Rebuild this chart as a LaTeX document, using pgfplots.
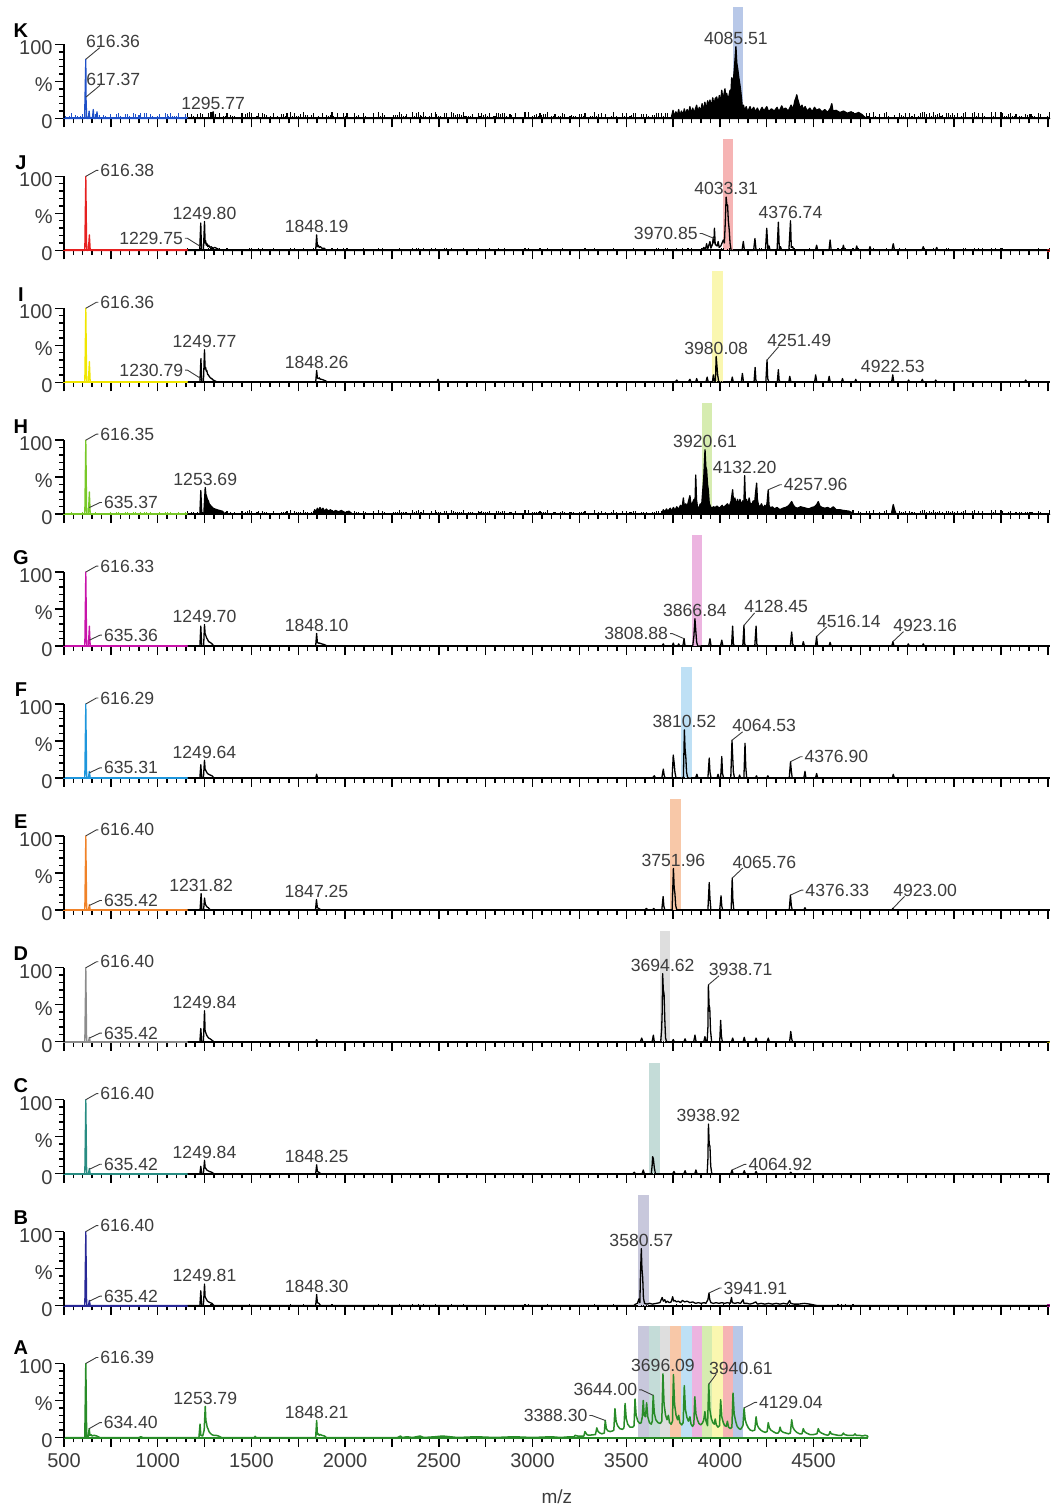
\documentclass[border=0pt]{standalone}
\usepackage{fontspec}
\setmainfont{Liberation Sans}
\usepackage{pgfplots}
\usepackage{pgfplotstable}
\pgfplotsset{compat=1.18}

% trace colours of the low-mass segment
\definecolor{cK}{HTML}{1E50C8}
\definecolor{cJ}{HTML}{E62020}
\definecolor{cI}{HTML}{F0E600}
\definecolor{cH}{HTML}{78C828}
\definecolor{cG}{HTML}{C814AA}
\definecolor{cF}{HTML}{1E96DC}
\definecolor{cE}{HTML}{F08228}
\definecolor{cD}{HTML}{8C8C8C}
\definecolor{cC}{HTML}{288C82}
\definecolor{cB}{HTML}{282896}
\definecolor{cA}{HTML}{288C28}
% highlight bands
\definecolor{bK}{HTML}{B8C8E8}
\definecolor{bJ}{HTML}{F6B4B4}
\definecolor{bI}{HTML}{FAF7B0}
\definecolor{bH}{HTML}{D6ECB0}
\definecolor{bG}{HTML}{ECB4E0}
\definecolor{bF}{HTML}{BEE0F5}
\definecolor{bE}{HTML}{F8C8A8}
\definecolor{bD}{HTML}{DEDEDE}
\definecolor{bC}{HTML}{C4DCD8}
\definecolor{bB}{HTML}{C8C8DC}
\definecolor{lab}{HTML}{3C3C3C}

\newcommand{\ticksize}{\fontsize{10}{12}\selectfont}
\newcommand{\lblsize}{\fontsize{8.8}{10}\selectfont}

% baseline noise level (relative units)
\pgfplotstableread[row sep=\\]{x n\\
500 1\\510 4\\520 1\\530 5\\540 9\\550 2\\560 6\\570 5\\580 3\\590 5\\
600 8\\610 9\\620 7\\630 9\\640 3\\650 2\\660 3\\670 8\\680 4\\690 6\\
700 2\\710 6\\720 4\\730 3\\740 3\\750 8\\760 3\\770 2\\780 7\\790 9\\
800 5\\810 0\\820 2\\830 8\\840 8\\850 4\\860 1\\870 9\\880 7\\890 1\\
900 6\\910 9\\920 3\\930 9\\940 9\\950 3\\960 7\\970 5\\980 1\\990 0\\
1000 5\\1010 8\\1020 2\\1030 0\\1040 9\\1050 7\\1060 4\\1070 9\\1080 4\\1090 4\\
1100 5\\1110 9\\1120 2\\1130 3\\1140 0\\1150 7\\1160 8\\1170 1\\1180 6\\1190 4\\
1200 0\\1210 6\\1220 2\\1230 8\\1240 6\\1250 2\\1260 0\\1270 8\\1280 9\\1290 9\\
1300 8\\1310 6\\1320 2\\1330 8\\1340 0\\1350 3\\1360 4\\1370 8\\1380 2\\1390 5\\
1400 3\\1410 4\\1420 2\\1430 1\\1440 1\\1450 7\\1460 0\\1470 6\\1480 7\\1490 9\\
1500 8\\1510 2\\1520 1\\1530 4\\1540 8\\1550 0\\1560 8\\1570 6\\1580 5\\1590 1\\
1600 3\\1610 2\\1620 8\\1630 2\\1640 3\\1650 0\\1660 6\\1670 6\\1680 4\\1690 7\\
1700 0\\1710 9\\1720 3\\1730 8\\1740 4\\1750 4\\1760 6\\1770 0\\1780 9\\1790 5\\
1800 5\\1810 0\\1820 5\\1830 8\\1840 2\\1850 2\\1860 3\\1870 1\\1880 7\\1890 2\\
1900 5\\1910 3\\1920 5\\1930 9\\1940 4\\1950 0\\1960 8\\1970 1\\1980 2\\1990 8\\
2000 4\\2010 8\\2020 1\\2030 1\\2040 1\\2050 7\\2060 4\\2070 5\\2080 0\\2090 2\\
2100 8\\2110 4\\2120 1\\2130 0\\2140 2\\2150 7\\2160 0\\2170 1\\2180 9\\2190 3\\
2200 8\\2210 5\\2220 2\\2230 1\\2240 1\\2250 0\\2260 5\\2270 5\\2280 5\\2290 9\\
2300 6\\2310 4\\2320 4\\2330 6\\2340 2\\2350 2\\2360 9\\2370 4\\2380 8\\2390 9\\
2400 5\\2410 4\\2420 9\\2430 3\\2440 0\\2450 3\\2460 8\\2470 1\\2480 9\\2490 6\\
2500 4\\2510 4\\2520 2\\2530 8\\2540 8\\2550 1\\2560 0\\2570 9\\2580 7\\2590 5\\
2600 6\\2610 6\\2620 5\\2630 9\\2640 3\\2650 3\\2660 4\\2670 4\\2680 6\\2690 1\\
2700 2\\2710 8\\2720 4\\2730 7\\2740 5\\2750 6\\2760 4\\2770 8\\2780 2\\2790 3\\
2800 3\\2810 7\\2820 8\\2830 6\\2840 7\\2850 8\\2860 3\\2870 1\\2880 6\\2890 5\\
2900 2\\2910 7\\2920 1\\2930 2\\2940 0\\2950 1\\2960 9\\2970 0\\2980 9\\2990 1\\
3000 4\\3010 5\\3020 6\\3030 4\\3040 8\\3050 5\\3060 6\\3070 6\\3080 9\\3090 2\\
3100 3\\3110 4\\3120 6\\3130 0\\3140 3\\3150 4\\3160 8\\3170 6\\3180 1\\3190 0\\
3200 4\\3210 5\\3220 4\\3230 3\\3240 2\\3250 6\\3260 6\\3270 4\\3280 8\\3290 2\\
3300 1\\3310 3\\3320 3\\3330 9\\3340 3\\3350 6\\3360 0\\3370 7\\3380 2\\3390 6\\
3400 0\\3410 2\\3420 4\\3430 9\\3440 1\\3450 4\\3460 1\\3470 2\\3480 7\\3490 3\\
3500 7\\3510 2\\3520 4\\3530 5\\3540 8\\3550 7\\3560 0\\3570 0\\3580 6\\3590 6\\
3600 0\\3610 6\\3620 3\\3630 1\\3640 5\\3650 5\\3660 8\\3670 8\\3680 1\\3690 7\\
3700 4\\3710 8\\3720 8\\3730 1\\3740 5\\3750 2\\3760 0\\3770 9\\3780 2\\3790 0\\
3800 9\\3810 6\\3820 2\\3830 8\\3840 2\\3850 9\\3860 2\\3870 5\\3880 4\\3890 0\\
3900 9\\3910 1\\3920 7\\3930 1\\3940 5\\3950 3\\3960 6\\3970 4\\3980 3\\3990 6\\
4000 7\\4010 8\\4020 9\\4030 2\\4040 5\\4050 9\\4060 0\\4070 3\\4080 6\\4090 0\\
4100 0\\4110 1\\4120 1\\4130 3\\4140 3\\4150 0\\4160 5\\4170 3\\4180 0\\4190 5\\
4200 4\\4210 8\\4220 8\\4230 2\\4240 0\\4250 4\\4260 6\\4270 6\\4280 5\\4290 2\\
4300 1\\4310 3\\4320 8\\4330 4\\4340 1\\4350 4\\4360 6\\4370 9\\4380 5\\4390 1\\
4400 9\\4410 4\\4420 1\\4430 5\\4440 1\\4450 1\\4460 6\\4470 0\\4480 9\\4490 4\\
4500 3\\4510 3\\4520 0\\4530 5\\4540 7\\4550 2\\4560 7\\4570 0\\4580 3\\4590 6\\
4600 5\\4610 7\\4620 5\\4630 9\\4640 5\\4650 9\\4660 1\\4670 9\\4680 5\\4690 3\\
4700 0\\4710 9\\4720 2\\4730 1\\4740 8\\4750 6\\4760 1\\4770 1\\4780 7\\4790 3\\
4800 8\\4810 1\\4820 9\\4830 3\\4840 2\\4850 6\\4860 1\\4870 1\\4880 7\\4890 9\\
4900 3\\4910 1\\4920 0\\4930 5\\4940 1\\4950 1\\4960 8\\4970 5\\4980 4\\4990 8\\
5000 0\\5010 7\\5020 4\\5030 4\\5040 6\\5050 2\\5060 3\\5070 7\\5080 9\\5090 9\\
5100 6\\5110 2\\5120 7\\5130 4\\5140 9\\5150 5\\5160 6\\5170 7\\5180 3\\5190 5\\
5200 1\\5210 8\\5220 8\\5230 5\\5240 7\\5250 5\\5260 2\\5270 7\\5280 2\\5290 4\\
5300 8\\5310 9\\5320 1\\5330 2\\5340 2\\5350 7\\5360 9\\5370 3\\5380 8\\5390 1\\
5400 8\\5410 3\\5420 0\\5430 1\\5440 1\\5450 9\\5460 4\\5470 9\\5480 1\\5490 2\\
5500 9\\5510 8\\5520 3\\5530 3\\5540 6\\5550 7\\5560 3\\5570 3\\5580 6\\5590 2\\
5600 4\\5610 4\\5620 0\\5630 6\\5640 5\\5650 6\\5660 6\\5670 4\\5680 3\\5690 0\\
5700 8\\5710 6\\5720 0\\5730 2\\5740 1\\5750 3\\5760 9\\
}\noise

\tikzset{
  lbl/.style={font=\lblsize, text=lab, inner sep=0.8pt},
  ldr/.style={draw=lab, line width=0.45pt},
  letter/.style={font=\bfseries\fontsize{10}{12}\selectfont, text=black},
}

% peak annotations
\newcommand{\pkc}[3]{\node[lbl,anchor=south] at (axis cs:#1,#2) {#3};}
\newcommand{\pkr}[5]{\draw[ldr] (axis cs:#1,#2) -- ++(#3,#4) -- ++(1pt,0pt) node[lbl,anchor=west] {#5};}
\newcommand{\pkl}[5]{\draw[ldr] (axis cs:#1,#2) -- ++(-#3,#4) -- ++(-1.2pt,0pt) node[lbl,anchor=east] {#5};}
\newcommand{\pku}[5]{\draw[ldr] (axis cs:#1,#2) -- ++(#3,#4); \path (axis cs:#1,#2) ++(0pt,#4) node[lbl,anchor=base west,inner xsep=0pt] {#5};}

\pgfplotsset{
  spec/.style={
    scale only axis, width=492.86pt, height=55.5pt,
    xmin=500, xmax=5760, ymin=0, ymax=150,
    axis x line*=bottom, axis y line*=left,
    x axis line style={line width=1pt,-}, y axis line style={draw=none},
    xtick={500,750,...,5750}, minor x tick num=4, xticklabels={},
    ytick={0,50,100}, yticklabels={0,\%,100},
    minor ytick={10,20,30,40,60,70,80,90},
    tick align=outside, major tick length=4.5pt, minor tick length=2.4pt,
    tick style={black, line width=0.7pt},
    yticklabel style={font=\ticksize, text=lab, inner sep=1pt, yshift=-1.8pt},
    xticklabel style={font=\ticksize, text=lab},
    clip=false, anchor=south west,
    % the intensity axis only runs up to 100 %
    after end axis/.code={\draw[black, line width=0.75pt] (axis cs:500,0) -- (axis cs:500,100);},
  },
  spk/.style={line width=0.65pt, line join=round, sharp plot},
  nz/.style={ycomb, line width=0.55pt},
}

\begin{document}
\begin{tikzpicture}
\useasboundingbox (-32pt,-35.25pt) rectangle (493.5pt,718.75pt);

%% ---------------- K ----------------
\begin{axis}[spec, at={(0pt,659.5pt)}]
\addplot[fill=bK, draw=none] coordinates {(4072,150)(4125,150)} \closedcycle;
\addplot[nz, cK, restrict x to domain=500:1160] table[x=x, y expr=0.8*\thisrow{n}] {\noise};
\addplot[nz, black, restrict x to domain=1160:5760] table[x=x, y expr=1.0*\thisrow{n}] {\noise};
\addplot[cK, line width=1pt] coordinates {(500,0)(1160,0)};
\addplot[spk, cK] coordinates {(500,0)(610,0)(616.36,80)(617.37,29)(621,0)(630,0)(634,10)(638,0)(652,0)(656,12)(660,0)(672,0)(676,9)(680,0)(1160,0)};
\addplot[spk, black, fill=black] coordinates {(1160,0)(1290,0)(1295.77,9)(1300,0)
(3740,0)(3750,11)(3756,2)(3765,9)(3772,3)(3780,12)(3786,4)(3795,10)(3802,3)(3810,13)(3816,5)(3825,12)(3832,6)(3840,16)(3846,6)(3855,14)(3862,7)(3876,18)(3882,8)(3890,15)(3898,9)(3905,20)(3912,10)(3920,22)(3926,12)(3935,24)(3940,14)(3947,25)(3954,15)(3962,28)(3968,16)(3975,27)(3983,29)(3990,20)(3997,31)(4004,22)(4010,38)(4016,25)(4027,40)(4031,28)(4036,34)(4042,26)(4048,30)(4054,38)(4058,30)(4063,55)(4070,45)(4078,70)(4085.51,97)(4090,75)(4095,67)(4101,55)(4107,45)(4112,35)(4116,25)(4120,14)(4126,18)(4132,10)(4140,16)(4148,9)(4161,16)(4168,10)(4180,15)(4190,9)(4200,14)(4210,8)(4225,15)(4235,10)(4250,16)(4260,9)(4275,13)(4290,10)(4305,15)(4315,9)(4330,17)(4338,12)(4350,14)(4365,10)(4380,18)(4390,12)(4400,24)(4406,28)(4410,32)(4415,26)(4420,22)(4428,14)(4438,18)(4445,12)(4455,16)(4465,10)(4480,14)(4492,9)(4505,15)(4516,11)(4530,13)(4545,9)(4560,12)(4575,8)(4590,14)(4597,20)(4603,10)(4620,11)(4640,8)(4660,10)(4680,7)(4700,9)(4720,6)(4740,8)(4760,5)(4780,0)(5760,0)} \closedcycle;
\pku{616.36}{80}{7pt}{5.8pt}{616.36}
\pku{617.37}{29}{7pt}{5.8pt}{617.37}
\pkc{1295.77}{9}{1295.77}
\pkc{4085.51}{97}{4085.51}
\node[letter] at (axis cs:270,119) {K};
\end{axis}

%% ---------------- J ----------------
\begin{axis}[spec, at={(0pt,593.55pt)}]
\addplot[fill=bJ, draw=none] coordinates {(4015,150)(4072,150)} \closedcycle;
\addplot[nz, cJ, restrict x to domain=500:1160] table[x=x, y expr=0.1*\thisrow{n}] {\noise};
\addplot[nz, black, restrict x to domain=1160:5760] table[x=x, y expr=0.35*\thisrow{n}] {\noise};
\addplot[cJ, line width=1pt] coordinates {(500,0)(1160,0)};
\addplot[cJ, line width=1.2pt] coordinates {(5745,0)(5760,0)};
\addplot[spk, cJ] coordinates {(500,0)(611,0)(616.38,100)(621,0)(630,0)(635.4,21)(640,0)(1160,0)};
\addplot[spk, black] coordinates {(1160,0)(1224,0)(1229.75,37)(1234,0)(1244,0)(1249.8,39)(1253,10)(1256,13)(1259,7)(1263,9)(1267,5)(1272,7)(1278,4)(1285,5)(1295,3)(1305,4)(1320,2)(1340,0)
(1843,0)(1848.19,21)(1852,5)(1857,7)(1862,4)(1868,5)(1876,3)(1888,3)(1900,0)
(3900,0)(3915,4)(3922,0)(3929,9)(3935,2)(3947,12)(3952,3)(3960,8)(3965,18)(3968,10)(3970.85,30)(3975,8)(3985,6)(3991,12)(3996,4)(4005,6)(4018,14)(4024,10)(4029,40)(4033.31,72)(4037,62)(4041,61)(4045,40)(4050,27)(4054,10)(4060,0)
(4118,0)(4125,12)(4131,0)(4180,0)(4187,16)(4193,0)(4243,0)(4250,30)(4256,2)(4262,6)(4268,0)(4305,0)(4312,38)(4317,2)(4323,5)(4330,0)(4368,0)(4376.74,40)(4381,4)(4388,5)(4395,0)
(4510,0)(4516,7)(4522,0)(4582,0)(4588,14)(4594,0)(4653,0)(4659,7)(4665,0)(4724,0)(4730,6)(4736,0)(4795,0)(4801,5)(4807,0)(4918,0)(4925,9)(4932,0)(5078,0)(5085,5)(5092,0)(5150,0)(5157,4)(5163,0)(5760,0)};
\pkr{616.38}{100}{5.3pt}{3pt}{616.38}
\pkl{1229.75}{5}{6.7pt}{4.2pt}{1229.75}
\pkc{1249.80}{39}{1249.80}
\pkc{1848.19}{21}{1848.19}
\pkl{3970.85}{16}{6.2pt}{2.5pt}{3970.85}
\pkc{4033.31}{72}{4033.31}
\pkc{4376.74}{40}{4376.74}
\node[letter] at (axis cs:270,119) {J};
\end{axis}

%% ---------------- I ----------------
\begin{axis}[spec, at={(0pt,527.6pt)}]
\addplot[fill=bI, draw=none] coordinates {(3959,150)(4015,150)} \closedcycle;
\addplot[nz, cI, restrict x to domain=500:1160] table[x=x, y expr=0.1*\thisrow{n}] {\noise};
\addplot[nz, black, restrict x to domain=1160:5760] table[x=x, y expr=0.22*\thisrow{n}] {\noise};
\addplot[cI, line width=1pt] coordinates {(500,0)(1160,0)};
\addplot[spk, cI] coordinates {(500,0)(611,0)(616.36,100)(621,0)(630,0)(635.4,28)(640,0)(1160,0)};
\addplot[spk, black] coordinates {(1160,0)(1225,0)(1230.79,32)(1235,0)(1244,0)(1249.77,44)(1253,18)(1256,20)(1259,15)(1262,16)(1266,11)(1270,10)(1275,8)(1281,6)(1288,5)(1296,3)(1305,2)(1320,0)
(1843,0)(1848.26,16)(1852,6)(1857,5)(1862,6)(1868,4)(1875,4)(1885,3)(1895,2)(1910,0)
(2490,0)(2496,4)(2502,0)
(3760,0)(3770,3)(3777,0)(3830,0)(3840,4)(3846,0)(3870,0)(3876,5)(3882,0)(3925,0)(3932,7)(3938,0)(3960,0)(3965,10)(3971,0)(3976,0)(3980.08,35)(3984,23)(3988,10)(3994,0)
(4060,0)(4066,7)(4072,0)(4114,0)(4120,12)(4126,0)(4182,0)(4188,20)(4192,3)(4198,0)(4245,0)(4251.49,30)(4255,5)(4262,0)(4306,0)(4312,17)(4316,3)(4322,0)(4367,0)(4373,8)(4379,0)
(4505,0)(4511,10)(4517,0)(4577,0)(4583,8)(4589,0)(4648,0)(4654,5)(4660,0)(4719,0)(4725,4)(4731,0)(4916,0)(4922.53,10)(4928,0)(5000,0)(5007,3)(5013,0)(5073,0)(5080,4)(5086,0)(5145,0)(5152,3)(5158,0)(5625,0)(5632,3)(5638,0)(5760,0)};
\pkr{616.36}{100}{5.3pt}{3pt}{616.36}
\pkl{1230.79}{5}{6.7pt}{4.2pt}{1230.79}
\pkc{1249.77}{44}{1249.77}
\pkc{1848.26}{16}{1848.26}
\pkc{3980.08}{35}{3980.08}
\pku{4251.49}{30}{5.8pt}{6.7pt}{4251.49}
\pkc{4922.53}{10}{4922.53}
\node[letter] at (axis cs:270,119) {I};
\end{axis}

%% ---------------- H ----------------
\begin{axis}[spec, at={(0pt,461.65pt)}]
\addplot[fill=bH, draw=none] coordinates {(3906,150)(3959,150)} \closedcycle;
\addplot[nz, cH, restrict x to domain=500:1160] table[x=x, y expr=0.35*\thisrow{n}] {\noise};
\addplot[nz, black, restrict x to domain=1160:5760] table[x=x, y expr=0.6*\thisrow{n}] {\noise};
\addplot[cH, line width=1pt] coordinates {(500,0)(1160,0)};
\addplot[spk, cH] coordinates {(500,0)(611,0)(616.35,100)(621,0)(630,0)(635.4,30)(640,0)(1160,0)};
\addplot[spk, black, fill=black] coordinates {(1160,0)(1225,0)(1230,32)(1235,2)(1246,0)(1253.69,36)(1257,27)(1261,24)(1265,20)(1270,18)(1275,14)(1281,12)(1288,10)(1296,8)(1305,7)(1316,6)(1330,5)(1345,4)(1360,0)
(1830,0)(1838,6)(1845,3)(1852,8)(1858,4)(1866,9)(1873,5)(1882,8)(1890,4)(1900,7)(1910,4)(1922,6)(1935,3)(1950,5)(1965,3)(1980,5)(2000,2)(2020,4)(2040,0)
(3690,0)(3698,6)(3705,3)(3715,7)(3722,4)(3735,8)(3742,4)(3752,9)(3760,5)(3770,10)(3778,6)(3790,12)(3798,8)(3805,22)(3810,10)(3818,14)(3825,10)(3833,18)(3840,25)(3846,12)(3855,16)(3862,20)(3867,14)(3871,53)(3875,20)(3880,10)(3888,8)(3895,14)(3902,10)(3908,30)(3914,50)(3920.61,87)(3925,64)(3929,60)(3934,40)(3938,33)(3943,15)(3950,10)(3958,8)(3965,10)(3975,9)(3985,11)(3995,8)(4005,10)(4012,12)(4018,9)(4028,11)(4040,14)(4050,10)(4060,18)(4068,33)(4073,15)(4080,22)(4086,12)(4094,20)(4100,13)(4107,20)(4114,12)(4122,18)(4128,14)(4132.2,52)(4136,15)(4142,20)(4150,12)(4156,22)(4161,15)(4170,13)(4178,18)(4185,14)(4190,28)(4196,42)(4200,20)(4206,12)(4214,10)(4222,14)(4230,8)(4240,12)(4248,9)(4252,16)(4257.96,33)(4262,12)(4270,8)(4280,10)(4290,7)(4305,9)(4320,6)(4335,8)(4350,9)(4365,11)(4375,14)(4383,17)(4392,12)(4402,9)(4415,8)(4430,10)(4445,9)(4460,8)(4475,7)(4490,9)(4505,10)(4517,13)(4525,17)(4533,11)(4545,9)(4560,8)(4575,9)(4590,7)(4605,10)(4620,6)(4640,6)(4660,5)(4690,4)(4720,0)
(4915,0)(4925,13)(4932,6)(4940,0)(5760,0)} \closedcycle;
\pkr{616.35}{100}{5.3pt}{3pt}{616.35}
\pkr{635.37}{9}{5.3pt}{2.5pt}{635.37}
\pkc{1253.69}{36}{1253.69}
\pkc{3920.61}{87}{3920.61}
\pkc{4132.20}{52}{4132.20}
\pkr{4257.96}{33}{5.8pt}{2.5pt}{4257.96}
\node[letter] at (axis cs:270,119) {H};
\end{axis}

%% ---------------- G ----------------
\begin{axis}[spec, at={(0pt,395.7pt)}]
\addplot[fill=bG, draw=none] coordinates {(3850,150)(3906,150)} \closedcycle;
\addplot[nz, cG, restrict x to domain=500:1160] table[x=x, y expr=0.1*\thisrow{n}] {\noise};
\addplot[nz, black, restrict x to domain=1160:5760] table[x=x, y expr=0.15*\thisrow{n}] {\noise};
\addplot[cG, line width=1pt] coordinates {(500,0)(1160,0)};
\addplot[spk, cG] coordinates {(500,0)(611,0)(616.33,100)(621,0)(630,0)(635.4,27)(640,0)(1160,0)};
\addplot[spk, black] coordinates {(1160,0)(1225,0)(1230,27)(1235,0)(1245,0)(1249.70,29)(1253,17)(1257,14)(1261,11)(1266,9)(1272,6)(1280,5)(1290,3)(1300,0)
(1843,0)(1848.10,17)(1852,5)(1858,4)(1865,4)(1875,3)(1890,2)(1905,0)
(3690,0)(3698,3)(3704,0)(3745,0)(3751,4)(3757,0)(3775,0)(3780,3)(3786,0)(3802,0)(3808.88,10)(3814,0)(3855,0)(3861,13)(3866.84,37)(3871,22)(3876,5)(3882,0)
(3940,0)(3947,10)(3953,0)(4003,0)(4010,8)(4016,0)(4062,0)(4068,27)(4072,3)(4078,0)(4122,0)(4128.45,28)(4132,3)(4138,0)(4186,0)(4193,27)(4197,3)(4203,0)(4376,0)(4383,19)(4388,3)(4394,0)(4440,0)(4445,6)(4451,0)(4510,0)(4516.14,13)(4521,0)(4582,0)(4588,5)(4594,0)(4917,0)(4923.16,6)(4929,0)(5000,0)(5005,3)(5011,0)(5080,0)(5085,3)(5091,0)(5760,0)};
\pkr{616.33}{100}{5.3pt}{3pt}{616.33}
\pkr{635.36}{8}{5.3pt}{2.5pt}{635.36}
\pkc{1249.70}{29}{1249.70}
\pkc{1848.10}{17}{1848.10}
\pkl{3808.88}{10}{5.8pt}{2.5pt}{3808.88}
\pkc{3866.84}{37}{3866.84}
\pku{4128.45}{28}{5.3pt}{6.2pt}{4128.45}
\pku{4516.14}{13}{5pt}{4.7pt}{4516.14}
\pku{4923.16}{6}{5.3pt}{5pt}{4923.16}
\node[letter] at (axis cs:270,119) {G};
\end{axis}

%% ---------------- F ----------------
\begin{axis}[spec, at={(0pt,329.75pt)}]
\addplot[fill=bF, draw=none] coordinates {(3793,150)(3850,150)} \closedcycle;
\addplot[nz, cF, restrict x to domain=500:1160] table[x=x, y expr=0.15*\thisrow{n}] {\noise};
\addplot[nz, black, restrict x to domain=1160:5760] table[x=x, y expr=0.2*\thisrow{n}] {\noise};
\addplot[cF, line width=1pt] coordinates {(500,0)(1160,0)};
\addplot[spk, cF] coordinates {(500,0)(611,0)(616.29,100)(621,0)(630,0)(635.3,9)(640,0)(1160,0)};
\addplot[spk, black] coordinates {(1160,0)(1225,0)(1230,18)(1235,0)(1244,0)(1249.64,24)(1253,12)(1257,10)(1261,8)(1266,6)(1272,5)(1280,4)(1290,3)(1300,0)
(1843,0)(1848,5)(1853,0)
(3640,0)(3650,3)(3656,0)(3690,0)(3698,12)(3703,3)(3709,0)(3745,0)(3751,31)(3756,20)(3760,8)(3766,0)(3805,0)(3810.52,65)(3814,40)(3818,29)(3822,8)(3828,0)
(3870,0)(3877,5)(3883,0)(3936,0)(3943,27)(3947,8)(3953,0)(3985,0)(3990,5)(3996,0)(4004,0)(4010,29)(4014,6)(4020,0)(4058,0)(4064.53,51)(4068,30)(4072,8)(4078,0)(4100,0)(4105,4)(4110,0)(4128,0)(4134,47)(4138,15)(4143,0)(4190,0)(4195,3)(4200,0)(4250,0)(4256,3)(4262,0)(4370,0)(4376.9,22)(4381,10)(4386,0)(4448,0)(4454,9)(4459,0)(4510,0)(4516,6)(4522,0)(4920,0)(4925,5)(4931,0)(5760,0)};
\pkr{616.29}{100}{5.3pt}{3pt}{616.29}
\pkr{635.31}{7}{5.3pt}{2.5pt}{635.31}
\pkc{1249.64}{24}{1249.64}
\pkc{3810.52}{65}{3810.52}
\pku{4064.53}{51}{5.3pt}{4.2pt}{4064.53}
\pkr{4376.90}{22}{5pt}{2.5pt}{4376.90}
\node[letter] at (axis cs:270,119) {F};
\end{axis}

%% ---------------- E ----------------
\begin{axis}[spec, at={(0pt,263.8pt)}]
\addplot[fill=bE, draw=none] coordinates {(3734,150)(3793,150)} \closedcycle;
\addplot[nz, cE, restrict x to domain=500:1160] table[x=x, y expr=0.1*\thisrow{n}] {\noise};
\addplot[nz, black, restrict x to domain=1160:5760] table[x=x, y expr=0.12*\thisrow{n}] {\noise};
\addplot[cE, line width=1pt] coordinates {(500,0)(1160,0)};
\addplot[spk, cE] coordinates {(500,0)(611,0)(616.40,100)(621,0)(630,0)(635.4,7)(640,0)(1160,0)};
\addplot[spk, black] coordinates {(1160,0)(1226,0)(1231.82,22)(1236,0)(1245,0)(1250,16)(1254,8)(1258,6)(1263,4)(1270,3)(1280,0)
(1842,0)(1847.25,14)(1852,3)(1860,2)(1870,0)
(3600,0)(3608,2)(3615,0)(3640,0)(3647,2)(3653,0)(3690,0)(3697,18)(3701,5)(3706,0)(3745,0)(3751.96,56)(3756,30)(3760,22)(3764,6)(3770,0)(3936,0)(3943,37)(3947,15)(3952,0)(3999,0)(4006,19)(4010,5)(4015,0)(4060,0)(4065.76,43)(4069,15)(4074,0)(4370,0)(4376.33,20)(4381,6)(4386,0)(4448,0)(4454,3)(4459,0)(4918,0)(4923,2)(4928,0)(5760,0)};
\pkr{616.40}{100}{5.3pt}{3pt}{616.40}
\pkr{635.42}{6}{5.3pt}{2.5pt}{635.42}
\pkc{1231.82}{22}{1231.82}
\pkc{1847.25}{14}{1847.25}
\pkc{3751.96}{56}{3751.96}
\pku{4065.76}{43}{5.3pt}{5pt}{4065.76}
\pkr{4376.33}{20}{5.5pt}{2.5pt}{4376.33}
\pku{4923.00}{2}{5.8pt}{6pt}{4923.00}
\node[letter] at (axis cs:270,119) {E};
\end{axis}

%% ---------------- D ----------------
\begin{axis}[spec, at={(0pt,197.85pt)}]
\addplot[fill=bD, draw=none] coordinates {(3680,150)(3734,150)} \closedcycle;
\addplot[nz, cD, restrict x to domain=500:1160] table[x=x, y expr=0.15*\thisrow{n}] {\noise};
\addplot[nz, black, restrict x to domain=1160:4500] table[x=x, y expr=0.1*\thisrow{n}] {\noise};
\addplot[cD, line width=1pt] coordinates {(500,0)(1160,0)};
\addplot[cI, line width=1.2pt] coordinates {(5745,0)(5760,0)};
\addplot[spk, cD] coordinates {(500,0)(611,0)(616.40,100)(621,0)(630,0)(635.4,6)(640,0)(1160,0)};
\addplot[spk, black] coordinates {(1160,0)(1225,0)(1230,18)(1235,0)(1244,0)(1249.84,42)(1253,15)(1257,12)(1261,9)(1266,7)(1272,5)(1280,4)(1290,2)(1300,0)
(1843,0)(1848,3)(1853,0)
(3575,0)(3583,5)(3589,0)(3638,0)(3645,9)(3650,0)(3684,0)(3689,16)(3692,40)(3694.62,92)(3698,70)(3702,65)(3706,30)(3710,5)(3716,0)(3745,0)(3751,3)(3757,0)(3808,0)(3814,4)(3820,0)(3860,0)(3867,9)(3873,0)(3914,0)(3920,7)(3926,0)(3932,0)(3936,20)(3938.71,77)(3942,50)(3946,45)(3950,15)(3956,0)(3999,0)(4004,29)(4008,8)(4013,0)(4062,0)(4068,5)(4074,0)(4124,0)(4130,6)(4136,0)(4187,0)(4193,5)(4199,0)(4252,0)(4258,5)(4264,0)(4372,0)(4378,14)(4383,4)(4388,0)(5760,0)};
\pkr{616.40}{100}{5.3pt}{3pt}{616.40}
\pkr{635.42}{5}{5.3pt}{2.5pt}{635.42}
\pkc{1249.84}{42}{1249.84}
\pkc{3694.62}{92}{3694.62}
\pku{3938.71}{77}{5.3pt}{4.5pt}{3938.71}
\node[letter] at (axis cs:270,119) {D};
\end{axis}

%% ---------------- C ----------------
\begin{axis}[spec, at={(0pt,131.9pt)}]
\addplot[fill=bC, draw=none] coordinates {(3623,150)(3680,150)} \closedcycle;
\addplot[nz, cC, restrict x to domain=500:1160] table[x=x, y expr=0.1*\thisrow{n}] {\noise};
\addplot[nz, black, restrict x to domain=1160:4500] table[x=x, y expr=0.1*\thisrow{n}] {\noise};
\addplot[cC, line width=1pt] coordinates {(500,0)(1160,0)};
\addplot[spk, cC] coordinates {(500,0)(611,0)(616.40,100)(621,0)(630,0)(635.4,7)(640,0)(1160,0)};
\addplot[spk, black] coordinates {(1160,0)(1225,0)(1230,10)(1235,0)(1244,0)(1249.84,18)(1253,8)(1257,7)(1262,5)(1268,4)(1276,3)(1288,2)(1300,0)
(1843,0)(1848.25,12)(1852,3)(1860,2)(1870,0)
(3536,0)(3543,2)(3549,0)(3585,0)(3591,5)(3597,0)(3634,0)(3638,10)(3641,23)(3645,20)(3650,8)(3656,0)(3748,0)(3755,3)(3761,0)(3808,0)(3814,4)(3820,0)(3866,0)(3872,5)(3878,0)(3932,0)(3936,20)(3938.92,67)(3943,40)(3947,37)(3951,10)(3957,0)(4058,0)(4064.92,5)(4070,0)(4124,0)(4130,4)(4136,0)(4187,0)(4193,3)(4199,0)(4372,0)(4378,2)(4384,0)(5760,0)};
\pkr{616.40}{100}{5.3pt}{3pt}{616.40}
\pkr{635.42}{6}{5.3pt}{2.5pt}{635.42}
\pkc{1249.84}{18}{1249.84}
\pkc{1848.25}{12}{1848.25}
\pkc{3938.92}{67}{3938.92}
\pkr{4064.92}{5}{6.2pt}{2.8pt}{4064.92}
\node[letter] at (axis cs:270,119) {C};
\end{axis}

%% ---------------- B ----------------
\begin{axis}[spec, at={(0pt,65.95pt)}]
\addplot[fill=bB, draw=none] coordinates {(3564,150)(3623,150)} \closedcycle;
\addplot[nz, cB, restrict x to domain=500:1160] table[x=x, y expr=0.1*\thisrow{n}] {\noise};
\addplot[nz, black, restrict x to domain=1160:4800] table[x=x, y expr=0.18*\thisrow{n}] {\noise};
\addplot[nz, black, restrict x to domain=4800:5760] table[x=x, y expr=0.1*\thisrow{n}] {\noise};
\addplot[cB, line width=1pt] coordinates {(500,0)(1160,0)};
\addplot[cG, line width=1.2pt] coordinates {(5745,0)(5760,0)};
\addplot[spk, cB] coordinates {(500,0)(611,0)(616.40,100)(621,0)(630,0)(635.4,7)(640,0)(1160,0)};
\addplot[spk, black] coordinates {(1160,0)(1225,0)(1230,20)(1235,0)(1244,0)(1249.81,29)(1253,12)(1257,10)(1261,8)(1266,6)(1272,5)(1280,4)(1290,3)(1300,0)
(1843,0)(1848.30,15)(1852,4)(1860,3)(1870,0)
(3540,0)(3550,2)(3560,3)(3568,9)(3573,4)(3576,40)(3580.57,77)(3584,50)(3588,38)(3592,10)(3598,3)(3610,2)(3625,3)(3640,2)(3660,3)(3680,4)(3692,11)(3698,6)(3706,8)(3712,4)(3720,6)(3730,4)(3740,5)(3748,12)(3753,6)(3760,7)(3768,5)(3778,6)(3790,4)(3800,7)(3812,5)(3825,6)(3840,4)(3855,5)(3870,3)(3885,4)(3900,3)(3915,4)(3925,3)(3936,8)(3941.91,17)(3946,8)(3952,4)(3965,3)(3980,4)(3995,3)(4010,4)(4025,3)(4040,4)(4055,3)(4062,11)(4066,4)(4080,3)(4095,4)(4110,3)(4124,8)(4128,3)(4145,3)(4160,2)(4175,3)(4192,5)(4200,2)(4220,3)(4240,2)(4260,3)(4280,2)(4300,3)(4320,2)(4340,3)(4360,2)(4372,7)(4378,3)(4395,2)(4420,2)(4450,3)(4480,2)(4520,0)(5760,0)};
\pkr{616.40}{100}{5.3pt}{3pt}{616.40}
\pkr{635.42}{6}{5.3pt}{2.5pt}{635.42}
\pkc{1249.81}{29}{1249.81}
\pkc{1848.30}{15}{1848.30}
\pkc{3580.57}{77}{3580.57}
\pkr{3941.91}{17}{5.3pt}{2.5pt}{3941.91}
\node[letter] at (axis cs:270,119) {B};
\end{axis}

%% ---------------- A ----------------
\begin{axis}[spec, at={(0pt,0pt)}, xmax=4790, width=401.97pt,
  xtick={500,750,...,4750},
  xticklabels={500,,1000,,1500,,2000,,2500,,3000,,3500,,4000,,4500,}]
\addplot[fill=bB, draw=none] coordinates {(3564,150)(3623,150)} \closedcycle;
\addplot[fill=bC, draw=none] coordinates {(3623,150)(3680,150)} \closedcycle;
\addplot[fill=bD, draw=none] coordinates {(3680,150)(3734,150)} \closedcycle;
\addplot[fill=bE, draw=none] coordinates {(3734,150)(3793,150)} \closedcycle;
\addplot[fill=bF, draw=none] coordinates {(3793,150)(3850,150)} \closedcycle;
\addplot[fill=bG, draw=none] coordinates {(3850,150)(3906,150)} \closedcycle;
\addplot[fill=bH, draw=none] coordinates {(3906,150)(3959,150)} \closedcycle;
\addplot[fill=bI, draw=none] coordinates {(3959,150)(4015,150)} \closedcycle;
\addplot[fill=bJ, draw=none] coordinates {(4015,150)(4072,150)} \closedcycle;
\addplot[fill=bK, draw=none] coordinates {(4072,150)(4125,150)} \closedcycle;
\addplot[cA, line width=1pt] coordinates {(500,0)(4790,0)};
\addplot[spk, cA, line width=0.75pt] coordinates {(500,0)(611,0)(616.39,100)(621,0)(629,0)(634.40,12)(638,3)(644,4)(650,2)(660,3)(675,2)(690,0)
(900,0)(910,1)(920,0)
(1220,0)(1226,18)(1230,3)(1240,2)(1248,10)(1253.79,42)(1257,23)(1260,20)(1264,14)(1268,12)(1274,8)(1280,6)(1288,4)(1298,3)(1310,3)(1325,2)(1340,0)
(1515,0)(1520,1.5)(1525,0)
(1843,0)(1848.21,23)(1852,4)(1857,5)(1862,3)(1868,4)(1876,3)(1890,2)(1900,0)
(2280,0)(2295,2)(2305,0)(2330,1)(2360,0)(2400,2)(2420,0)(2480,1)(2520,2)(2560,1)(2600,0)(2700,1)(2800,0)(2900,1)(3000,0)(3100,1)(3150,0)(3200,1)
(3222,1)(3227,3)(3240,2)(3274,2)(3280,8)(3290,4)(3300,3)(3336,4)(3343,13)(3350,8)(3360,6)(3370,5)(3383,6)(3388.3,23)(3394,12)(3402,9)(3415,8)(3428,9)
(3434,10)(3440,39)(3446,22)(3454,16)(3466,12)(3480,11)(3488,13)(3494,46)(3500,26)(3508,18)(3520,14)(3535,14)(3542,16)(3547,52)(3553,30)(3562,22)(3572,19)(3580,20)(3586,28)(3591,50)(3596,30)(3603,28)(3609,47)(3615,28)(3624,20)(3634,18)(3639,22)(3644,57)(3650,33)(3658,24)(3670,20)(3682,19)(3690,22)(3696.09,86)(3702,45)(3710,30)(3718,24)(3725,30)(3731,20)(3740,18)(3747,22)(3752,85)(3758,45)(3766,30)(3774,24)(3780,30)(3786,20)(3796,17)(3804,20)(3810,70)(3816,38)(3824,27)(3832,22)(3840,28)(3846,18)(3854,15)(3861,18)(3866,55)(3872,32)(3880,24)(3888,19)(3898,17)(3908,20)(3914,24)(3920,35)(3926,22)(3934,16)(3940.61,72)(3946,38)(3954,26)(3962,20)(3970,18)(3975,25)(3981,17)(3990,14)(3998,16)(4004,51)(4010,28)(4018,20)(4026,16)(4034,15)(4040,22)(4046,14)(4056,12)(4064,14)(4070,60)(4076,32)(4084,22)(4092,15)(4102,12)(4110,11)(4116,13)(4123,16)(4129.04,40)(4135,24)(4142,18)(4152,13)(4162,10)(4174,9)(4186,10)(4193,28)(4199,17)(4207,13)(4218,10)(4230,8)(4242,7)(4252,8)(4258,20)(4264,13)(4272,10)(4284,8)(4298,6)(4310,6)(4316,8)(4321,14)(4327,9)(4338,7)(4352,6)(4366,5)(4376,6)(4383,24)(4389,14)(4398,10)(4410,7)(4425,5)(4438,5)(4445,12)(4451,8)(4462,6)(4480,4)(4500,4)(4518,5)(4525,12)(4531,8)(4542,6)(4560,4)(4575,3)(4582,4)(4588,8)(4594,5)(4610,4)(4630,3)(4650,3)(4659,6)(4665,4)(4680,3)(4700,3)(4714,3)(4721,5)(4727,3)(4745,3)(4760,2)(4775,3)(4788,2)(4790,0)};
\pkr{616.39}{100}{5.3pt}{3pt}{616.39}
\pkr{634.40}{12}{5.3pt}{3pt}{634.40}
\pkc{1253.79}{42}{1253.79}
\pkc{1848.21}{23}{1848.21}
\pkl{3388.30}{23}{6.7pt}{2.5pt}{3388.30}
\pkl{3644.00}{57}{5.8pt}{2.7pt}{3644.00}
\pkc{3696.09}{86}{3696.09}
\pku{3940.61}{72}{3.7pt}{5pt}{3940.61}
\pkr{4129.04}{40}{5.5pt}{2.8pt}{4129.04}
\node[letter] at (axis cs:270,122) {A};
\node[font=\fontsize{9.5}{11}\selectfont, text=lab, yshift=-29.75pt] at (axis cs:3130,0) {m/z};
\end{axis}
\end{tikzpicture}
\end{document}
